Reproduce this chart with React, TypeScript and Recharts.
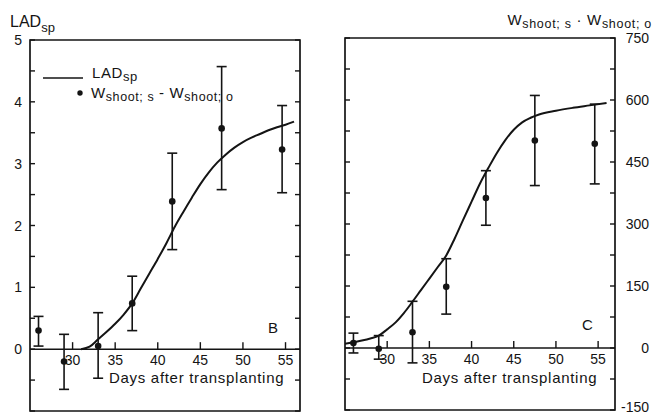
import React from "react";
import {
  ComposedChart,
  XAxis,
  YAxis,
  Line,
  Scatter,
  ErrorBar,
  ReferenceLine,
  ReferenceArea,
} from "recharts";

const INK = "#141414";
const FONT = "'Liberation Sans', Arial, Helvetica, sans-serif";

// Day axis
const dayTicks = [30, 35, 40, 45, 50, 55];

// Sampling days of the shoot-weight differences
const sampleDays = [26, 29, 33, 37, 41.7, 47.5, 54.6];

// Panel B: differences on the LAD scale (mean, lower, upper)
const ladPointMean = [0.3, -0.2, 0.05, 0.74, 2.39, 3.57, 3.23];
const ladPointLow = [0.05, -0.65, -0.47, 0.3, 1.61, 2.58, 2.53];
const ladPointHigh = [0.53, 0.24, 0.59, 1.18, 3.17, 4.57, 3.94];

// Panel B: LAD_sp curve
const ladCurveDays = [31, 32, 33, 34, 35, 36, 37, 38, 39, 40, 41, 42, 43, 44, 45, 46, 47, 48, 49, 50, 51, 52, 53, 54, 55, 56];
const ladCurveValues = [0, 0.04, 0.16, 0.28, 0.41, 0.56, 0.74, 0.98, 1.22, 1.46, 1.71, 1.98, 2.22, 2.45, 2.67, 2.86, 3.02, 3.15, 3.26, 3.35, 3.42, 3.48, 3.54, 3.59, 3.63, 3.68];

// Panel C: shoot weight differences (mean, lower, upper)
const wPointMean = [12, -2, 38, 148, 363, 502, 494];
const wPointLow = [-12, -27, -36, 82, 297, 393, 397];
const wPointHigh = [36, 30, 113, 216, 429, 611, 590];

// Panel C: fitted curve
const wCurveDays = [25, 26, 27, 28, 29, 30, 31, 32, 33, 34, 35, 36, 37, 38, 39, 40, 41, 42, 43, 44, 45, 46, 47, 48, 50, 52, 54, 56];
const wCurveValues = [10, 14, 18, 23, 30, 45, 62, 85, 112, 140, 168, 196, 224, 265, 310, 354, 398, 436, 472, 503, 528, 546, 557, 565, 574, 581, 587, 593];

// Y-axis tick positions
const ladAxisTicks = [-1, -0.5, 0, 0.5, 1, 1.5, 2, 2.5, 3, 3.5, 4, 4.5, 5];
const ladAxisLabels = [0, 1, 2, 3, 4, 5];
const wAxisTicks = [-150, -75, 0, 75, 150, 225, 300, 375, 450, 525, 600, 675, 750];
const wAxisLabels = [-150, 0, 150, 300, 450, 600, 750];

const CHART_H = 416;

const toPoints = (mean: number[], low: number[], high: number[]) =>
  sampleDays.map((d, i) => ({
    x: d,
    y: mean[i],
    err: [mean[i] - low[i], high[i] - mean[i]],
  }));

const toCurve = (days: number[], vals: number[]) =>
  days.map((d, i) => ({ x: d, y: vals[i] }));

const ladPoints = toPoints(ladPointMean, ladPointLow, ladPointHigh);
const wPoints = toPoints(wPointMean, wPointLow, wPointHigh);
const ladCurve = toCurve(ladCurveDays, ladCurveValues);
const wCurve = toCurve(wCurveDays, wCurveValues);
const dayTickMarks = dayTicks.map((d) => ({ x: d, y: 0 }));

type TickProps = {
  x: number;
  y: number;
  payload: { value: number };
  dir: 1 | -1;
  labels?: number[];
  labelDx?: number;
  anchor?: "start" | "end";
};

// Inward tick mark with optional value label outside the frame
function FrameTick({ x, y, payload, dir, labels, labelDx = 0, anchor = "end" }: TickProps) {
  const showLabel = labels ? labels.includes(payload.value) : false;
  // keep the lowest label inside the drawing area
  const ly = Math.min(y, CHART_H - 9);
  return (
    <g>
      <line x1={x} x2={x + dir * 5} y1={y} y2={y} stroke={INK} strokeWidth={1.4} />
      {showLabel && (
        <text
          x={x + labelDx}
          y={ly}
          textAnchor={anchor}
          dominantBaseline="central"
          fontSize={14}
          fontFamily={FONT}
          fill={INK}
        >
          {payload.value}
        </text>
      )}
    </g>
  );
}

// Day tick drawn on the zero line, pointing up, label underneath
function DayTick(p: any) {
  return (
    <g>
      <line x1={p.cx} x2={p.cx} y1={p.cy} y2={p.cy - 7} stroke={INK} strokeWidth={1.4} />
      <text
        x={p.cx}
        y={p.cy + 16}
        textAnchor="middle"
        fontSize={14}
        fontFamily={FONT}
        fill={INK}
      >
        {p.payload.x}
      </text>
    </g>
  );
}

function Dot(p: any) {
  return <circle cx={p.cx} cy={p.cy} r={3.3} fill={INK} />;
}

type PanelProps = {
  width: number;
  height: number;
  margin: { top: number; right: number; bottom: number; left: number };
  xDomain: [number, number];
  yDomain: [number, number];
  axisTicks: number[];
  leftWidth: number;
  rightWidth: number;
  leftLabels?: number[];
  rightLabels?: number[];
  rightLabelDx?: number;
  points: { x: number; y: number; err: number[] }[];
  curve: { x: number; y: number }[];
};

function Panel(props: PanelProps) {
  const {
    width,
    height,
    margin,
    xDomain,
    yDomain,
    axisTicks,
    leftWidth,
    rightWidth,
    leftLabels,
    rightLabels,
    rightLabelDx = 0,
    points,
    curve,
  } = props;
  return (
    <ComposedChart width={width} height={height} margin={margin}>
      <XAxis
        xAxisId="d"
        dataKey="x"
        type="number"
        domain={xDomain}
        allowDataOverflow
        hide
      />
      <YAxis
        yAxisId="v"
        orientation="left"
        type="number"
        domain={yDomain}
        allowDataOverflow
        ticks={axisTicks}
        interval={0}
        width={leftWidth}
        tickSize={0}
        tickMargin={0}
        tickLine={false}
        axisLine={false}
        tick={(t: any) => (
          <FrameTick {...t} dir={1} labels={leftLabels} labelDx={-8} anchor="end" />
        )}
      />
      <YAxis
        yAxisId="m"
        orientation="right"
        type="number"
        domain={yDomain}
        allowDataOverflow
        ticks={axisTicks}
        interval={0}
        width={rightWidth}
        tickSize={0}
        tickMargin={0}
        tickLine={false}
        axisLine={false}
        tick={(t: any) => (
          <FrameTick {...t} dir={-1} labels={rightLabels} labelDx={rightLabelDx} anchor="end" />
        )}
      />
      <ReferenceArea
        xAxisId="d"
        yAxisId="v"
        x1={xDomain[0]}
        x2={xDomain[1]}
        y1={yDomain[0]}
        y2={yDomain[1]}
        fill="none"
        fillOpacity={0}
        stroke={INK}
        strokeWidth={1.7}
        ifOverflow="visible"
      />
      <ReferenceLine xAxisId="d" yAxisId="v" y={0} stroke={INK} strokeWidth={1.5} />
      <Scatter
        xAxisId="d"
        yAxisId="v"
        data={dayTickMarks}
        dataKey="y"
        shape={DayTick}
        isAnimationActive={false}
      />
      <Line
        xAxisId="d"
        yAxisId="v"
        data={curve}
        dataKey="y"
        type="monotone"
        dot={false}
        stroke={INK}
        strokeWidth={2}
        isAnimationActive={false}
      />
      <Scatter
        xAxisId="d"
        yAxisId="v"
        data={points}
        dataKey="y"
        shape={Dot}
        isAnimationActive={false}
      >
        <ErrorBar
          dataKey="err"
          direction="y"
          width={5}
          stroke={INK}
          strokeWidth={1.6}
        />
      </Scatter>
    </ComposedChart>
  );
}

const textStyle = { fontFamily: FONT, fill: INK } as const;

export default function App() {
  return (
    <div
      style={{
        position: "absolute",
        left: 0,
        top: 0,
        width: 655,
        height: 416,
        background: "#fff",
        overflow: "hidden",
      }}
    >
      <div style={{ position: "absolute", left: 0, top: 0 }}>
        <Panel
          width={325}
          height={CHART_H}
          margin={{ top: 40, right: 0, bottom: 5, left: 0 }}
          xDomain={[25, 56.7]}
          yDomain={[-1, 5]}
          axisTicks={ladAxisTicks}
          leftWidth={30}
          rightWidth={25}
          leftLabels={ladAxisLabels}
          points={ladPoints}
          curve={ladCurve}
        />
      </div>
      <div style={{ position: "absolute", left: 325, top: 0 }}>
        <Panel
          width={330}
          height={CHART_H}
          margin={{ top: 38, right: 0, bottom: 6, left: 0 }}
          xDomain={[25, 57]}
          yDomain={[-150, 750]}
          axisTicks={wAxisTicks}
          leftWidth={20}
          rightWidth={40}
          rightLabels={wAxisLabels}
          rightLabelDx={34}
          points={wPoints}
          curve={wCurve}
        />
      </div>
      <svg
        width={655}
        height={416}
        style={{ position: "absolute", left: 0, top: 0, pointerEvents: "none" }}
      >
        {/* Left axis title */}
        <text x={10} y={27} fontSize={16} {...textStyle}>
          LAD
          <tspan fontSize={13} dy={5}>sp</tspan>
        </text>

        {/* Legend */}
        <line x1={43} x2={83} y1={78} y2={78} stroke={INK} strokeWidth={1.6} />
        <text x={92} y={78} fontSize={15} letterSpacing={0.6} {...textStyle}>
          LAD
          <tspan fontSize={13} dy={3}>sp</tspan>
        </text>
        <circle cx={80} cy={93} r={2.7} fill={INK} />
        <text x={91} y={98} fontSize={15} letterSpacing={0.6} {...textStyle}>
          W
          <tspan fontSize={12.5} dy={3}>shoot; s</tspan>
          <tspan dy={-3}> - W</tspan>
          <tspan fontSize={12.5} dy={3}>shoot; o</tspan>
        </text>

        {/* Right axis title */}
        <text x={652} y={25} fontSize={15} textAnchor="end" letterSpacing={0.7} {...textStyle}>
          W
          <tspan fontSize={12.5} dy={3}>shoot; s</tspan>
          <tspan dy={-3}> · W</tspan>
          <tspan fontSize={12.5} dy={3}>shoot; o</tspan>
        </text>

        {/* Panel letters */}
        <text x={268} y={333} fontSize={15} {...textStyle}>B</text>
        <text x={582} y={330} fontSize={15} {...textStyle}>C</text>

        {/* Day axis titles */}
        <text x={109} y={383} fontSize={15} letterSpacing={0.7} {...textStyle}>
          Days after transplanting
        </text>
        <text x={422} y={383} fontSize={15} letterSpacing={0.7} {...textStyle}>
          Days after transplanting
        </text>
      </svg>
    </div>
  );
}
